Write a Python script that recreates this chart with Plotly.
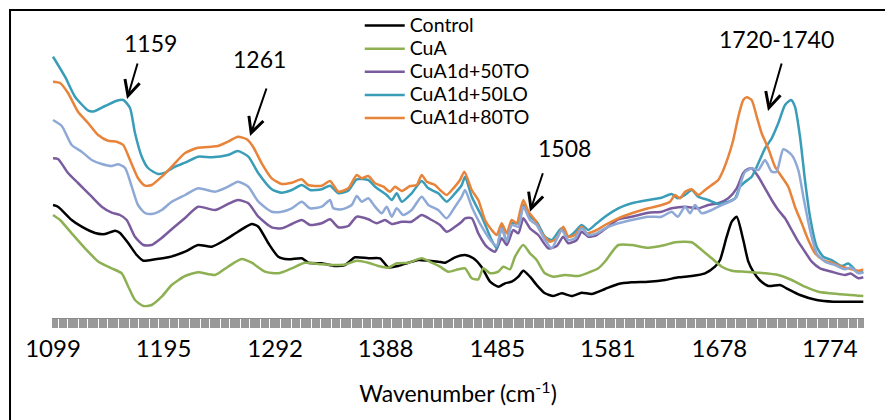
import plotly.graph_objects as go

# ---------------- data ----------------
tick_labels = [1099, 1195, 1292, 1388, 1485, 1581, 1678, 1774]
point_step = 1.928  # spacing of the measured wavenumbers (category ticks)

control_x = [1099, 1103.3, 1115.2, 1123.9, 1135.5, 1144.2, 1152.9, 1157.2, 1164.4, 1171.7, 1177.5, 1187.6, 1199.2, 1213.7,
             1225, 1236.9, 1248.4, 1259.7, 1271.6, 1277.4, 1286.1, 1294.7, 1303.4, 1315.1, 1320.8, 1332.4,
             1344, 1352.7, 1361.4, 1372.9, 1383.1, 1390.3, 1399, 1407.7, 1416.4, 1425.1, 1433.7, 1439.6, 1448.3, 1457,
             1464.2, 1471.5, 1478.7, 1485.9, 1491.7, 1497.5, 1503.3, 1507.6, 1513.4, 1519.2, 1526.4, 1533.7, 1540.9,
             1549.6, 1558.3, 1567, 1578.6, 1590.1, 1601.8, 1616.2, 1630.7, 1642.3, 1653.9, 1665.5, 1674.1, 1678.5,
             1684.3, 1688.7, 1693, 1698.7, 1703.1, 1707.4, 1712.9, 1720.4, 1730.6, 1736.3, 1748, 1762.5, 1777, 1803]
control_y = [113, 111.3, 98, 91.3, 85, 84, 87.3, 85, 74.7, 63, 57.3, 58.7, 60.7, 66.3,
             73, 71.3, 78, 86.3, 94, 91.3, 74.7, 61.3, 58.7, 59.7, 55.3, 54.7,
             52, 53, 60.7, 59.7, 59.7, 50.7, 52, 55.3, 58, 57.3, 56.3, 55.3, 60.7, 63,
             59.7, 50.7, 36.3, 31.3, 34.7, 36.3, 41.3, 47.3, 41.3, 33, 24.7, 22, 24.7,
             22, 25.3, 24, 29, 34, 35.7, 36.3, 38, 40.7, 42, 44.7, 51.3, 58,
             81.3, 96.3, 101.3, 78, 56.3, 46.3, 38, 32, 33, 29.7, 23, 18, 16.3, 16.3]

cua_x = [1099, 1105.1, 1115.2, 1126.8, 1138.4, 1150, 1158.7, 1164.4, 1170.2, 1177.5, 1184.7, 1193.4, 1202.1, 1213.7,
         1225, 1239.7, 1251, 1262.9, 1271.6, 1283.2, 1294.7, 1306.4, 1317.9, 1332.4,
         1344, 1352.7, 1362.9, 1372.9, 1381.6, 1390.3, 1397.6, 1407.7, 1419.3, 1428, 1435.2, 1442.4, 1451.1, 1457,
         1462.8, 1468.5, 1472.8, 1478.7, 1485.9, 1490.2, 1496, 1500.4, 1507.6, 1513.4, 1519.2, 1526.4, 1533.7,
         1543.8, 1555.4, 1564.1, 1572.8, 1578.6, 1590.1, 1601.8, 1616.2, 1630.7, 1639.4, 1653.9, 1662.6, 1671.3,
         1680, 1688.7, 1700.2, 1711.8, 1729.1, 1740.8, 1752.3, 1763.9, 1781.3, 1803]
cua_y = [103, 98, 84.7, 69.7, 56.3, 49.7, 44.7, 31.3, 18, 12, 13, 21.3, 33, 42,
         45.7, 43, 51.3, 59, 55.3, 46.3, 44.7, 49.7, 55.3, 53.7,
         53, 53.5, 57.3, 55.3, 52, 50.3, 54.7, 55.3, 59.7, 55.3, 51.3, 46.3, 48.7, 49.7,
         39.7, 38.7, 49.7, 44.7, 46.3, 51.3, 48.7, 61.3, 73, 64.7, 58, 44.7, 41.3,
         43, 42, 45.3, 49.7, 56.5, 73, 73, 70.3, 73, 75.7, 75.7, 68, 59.7,
         51.3, 47.3, 46.3, 45.3, 43, 38, 31.3, 26.3, 24, 22]

to50_x = [1099, 1103.3, 1112, 1120.7, 1132.6, 1141.3, 1150, 1157.2, 1163, 1170.2, 1177.5, 1184.7, 1193.4, 1203.3, 1213.7,
          1225, 1239.7, 1251, 1259.7, 1268.7, 1277.4, 1289, 1297.7, 1306.4, 1315.1, 1322.3, 1332.4,
          1339.7, 1346.9, 1355.5, 1362.9, 1372.9, 1380.2, 1387.4, 1393.3, 1402, 1410.6, 1419.3, 1428, 1435.2, 1441,
          1448.3, 1454.1, 1457, 1462.8, 1468.5, 1475.8, 1483, 1488.8, 1493.2, 1498.9, 1503.3, 1507.6, 1513.4, 1520.6,
          1529.3, 1536.6, 1542.3, 1546.7, 1554, 1558.3, 1564.1, 1571.4, 1578.6, 1590.1, 1601.8, 1616.2, 1627.8,
          1636.5, 1648.1, 1659.6, 1668.3, 1677, 1685.7, 1693, 1698.7, 1703, 1706, 1711.8, 1717.6, 1723.4, 1729.1,
          1735, 1740.8, 1746.5, 1752.3, 1758.2, 1765.4, 1775.5, 1787.1, 1792, 1798.7, 1803]
to50_y = [159.7, 159, 145, 135, 121.3, 111.3, 105.3, 103, 98, 81.3, 73, 73, 80, 90, 100,
          111.3, 108, 114, 118, 114.7, 101.3, 90.7, 89.7, 94, 98, 93, 94.7,
          98.7, 90.7, 92, 101.3, 98.7, 94.7, 98, 94, 96.3, 96.3, 103, 98, 93, 86.3,
          91.3, 96.3, 99.7, 99.7, 84.7, 71.3, 66.3, 79.7, 73, 88, 84.7, 99.7, 89.7, 83,
          69.7, 72, 81.3, 74.7, 78, 86.3, 81.3, 83, 89, 98.7, 101.3, 105.3, 106.3,
          109.7, 111.3, 109.7, 113, 114.7, 119.7, 129.7, 145, 149, 149.7, 141.3, 129.7, 118, 108,
          99.7, 88, 76.3, 66.3, 56.3, 49.7, 46.3, 43, 44.5, 39.7, 40.7]

lo50_x = [1099, 1109.4, 1118.1, 1129.7, 1134, 1144.2, 1154.3, 1160.1, 1165.9, 1170.2, 1176.1, 1181.5, 1190.2, 1196.3, 1205, 1213.7,
          1225, 1236.9, 1251, 1259.7, 1268.7, 1277.4, 1289, 1297.7, 1306.4, 1315.1, 1322.3, 1332.4,
          1339.7, 1346.9, 1355.5, 1362.9, 1372.9, 1378.8, 1388.9, 1393.3, 1397.6, 1402, 1410.6, 1419.3, 1425.1, 1433.7,
          1441, 1448.3, 1454.1, 1457, 1462.8, 1471.5, 1480.1, 1484.5, 1488.8, 1493.2, 1497.5, 1503.3, 1507.6, 1513.4,
          1519.2, 1526.4, 1532.3, 1540.9, 1546.7, 1552.5, 1558.3, 1564.1, 1571.4, 1578.6, 1590.1, 1601.8, 1616.2,
          1627.8, 1636.5, 1641.8, 1648.1, 1653.9, 1659.6, 1668.3, 1677, 1682.8, 1691.5, 1695.9, 1700.2, 1706, 1711.8,
          1717.6, 1723.4, 1729.1, 1735, 1740.2, 1743.6, 1748, 1752.3, 1756.7, 1762.5, 1768.2, 1775.5, 1784.2, 1790,
          1798.7, 1803]
lo50_y = [261.3, 241.3, 221.3, 207.3, 206.5, 212, 217.3, 218, 210, 185, 161.3, 150, 144, 145.3, 151.3, 155.3,
          161.3, 160.7, 163, 167, 161.3, 144.7, 128.7, 125.3, 128, 133, 128, 128.7,
          132.3, 124.7, 127.3, 138.7, 138, 131.3, 123, 118, 124.7, 116.3, 124.7, 137, 129.7, 124.7,
          116.3, 124.7, 133, 141.3, 121.3, 101.3, 78, 69.7, 91.3, 76.3, 94.7, 94.7, 113, 101.3,
          96.3, 81.3, 78, 89.7, 81.3, 86.3, 93, 88, 94.7, 101.3, 109.7, 114.7, 118,
          120.3, 124, 119.7, 123, 128, 121.3, 118, 114, 115.3, 119.7, 131.3, 136, 141.3, 154.7,
          169.7, 179.7, 194.7, 213, 218, 211.3, 181.3, 138, 101.3, 71.3, 61.3, 58, 52, 54.5,
          45.3, 46.3]

to80_x = [1099, 1105.1, 1112, 1120.7, 1129.4, 1138.2, 1146.8, 1154.3, 1160, 1165.9, 1172.8, 1178.9, 1184.7, 1193.4, 1202.1, 1213.7,
          1225, 1236.9, 1242.4, 1251, 1259.7, 1267.3, 1272.8, 1280.3, 1289, 1297.7, 1306.4, 1315.1, 1320.5, 1332.4,
          1339.7, 1346.9, 1355.5, 1362.9, 1367.2, 1372.9, 1378.8, 1386, 1391.8, 1396.1, 1402, 1409.2, 1415, 1419.3,
          1423.7, 1430.9, 1435.2, 1441, 1446.8, 1452.6, 1456.4, 1462.8, 1468.5, 1474.3, 1480.1, 1484.5, 1488.8, 1493.2,
          1497.5, 1501.9, 1504.7, 1507.6, 1512, 1517.8, 1523.6, 1530.8, 1536.6, 1542.3, 1546.7, 1552.5, 1558.3,
          1562.7, 1571.4, 1578.6, 1590.1, 1601.8, 1616.2, 1627.8, 1635.1, 1639.4, 1643.7, 1648.1, 1653.9, 1659.6,
          1665.5, 1671.3, 1677, 1681.4, 1685.7, 1690, 1694.4, 1698.7, 1701.7, 1706, 1710.4, 1714.7, 1720.4, 1726.3,
          1732.1, 1737.8, 1743.6, 1749.5, 1755.2, 1761, 1768.2, 1775.5, 1784.2, 1790, 1798.7, 1803]
to80_y = [236.3, 235, 225, 206.3, 195, 183, 177.3, 176.3, 173, 158, 140, 132.3, 133, 141.3, 151.3, 165,
          170.3, 171.3, 172, 176.3, 181.3, 178.7, 171.3, 154.7, 139.7, 134, 135.3, 138.7, 133, 132.3,
          137, 126.3, 129.7, 143, 139.7, 142, 134.7, 131.3, 126.3, 131.3, 127, 132, 133, 143,
          136.3, 133, 128, 123, 129.7, 138, 146.3, 128, 118, 98, 88, 83, 94.7, 84.7,
          98, 94.7, 106.3, 118, 106.3, 98, 84.7, 76.3, 79.7, 91.3, 81.3, 83, 91.3,
          84.7, 88, 93, 99.7, 104.7, 109.7, 113, 116.3, 123, 119.7, 126.3, 128.7, 123,
          128, 133, 138, 148, 161.3, 178, 201.3, 218, 220.7, 218, 201.3, 184.7, 169.7, 151.3,
          141.3, 131.3, 111.3, 94.7, 78, 64.7, 58, 55.3, 51.3, 49.7, 47.3, 48.7]

lo80_x = [1099, 1106.6, 1115.2, 1123.9, 1132.6, 1141.3, 1150, 1155.5, 1161.6, 1167.4, 1172.8, 1178.9, 1184.7, 1193.4, 1202.1, 1213.7,
          1225, 1239.7, 1251, 1259.7, 1268.7, 1277.4, 1289, 1297.7, 1306.4, 1315.1, 1322.3, 1332.4,
          1339.7, 1342.5, 1349.8, 1358.5, 1362.9, 1367.2, 1372.9, 1378.8, 1384.6, 1388.9, 1393.3, 1397.6, 1403.3,
          1410.6, 1419.3, 1425.1, 1433.7, 1441, 1448.3, 1454.1, 1457, 1462.8, 1471.5, 1480.1, 1484.5, 1488.8, 1493.2,
          1497.5, 1503.3, 1507.6, 1513.4, 1519.2, 1526.4, 1532.3, 1540.9, 1546.7, 1552.5, 1558.3, 1564.1, 1571.4,
          1578.6, 1590.1, 1601.8, 1616.2, 1627.8, 1636.5, 1641.8, 1648.1, 1652.5, 1656.8, 1662.6, 1671.3, 1680,
          1687.2, 1693, 1697.3, 1700.2, 1706, 1711.8, 1717.6, 1723.4, 1727.7, 1733.5, 1740.8, 1746.5, 1750.9, 1756.7,
          1762.5, 1769.7, 1778.4, 1787.1, 1792, 1798.7, 1803]
lo80_y = [198, 192, 173, 166.3, 158, 154, 152, 153.7, 150, 131.3, 113, 105, 104, 108, 116.3, 123,
          129.7, 126.3, 131.3, 136.3, 131.3, 116.3, 106.3, 106.3, 109.7, 116.3, 109.7, 111.3,
          118, 109.7, 108.7, 113, 122, 116.3, 119.7, 111.3, 104.7, 111.3, 101.3, 109.7, 103,
          108, 121.3, 113, 108, 99.7, 111.3, 121.3, 128, 111.3, 91.3, 76.3, 72, 89.7, 76.3,
          93, 91.3, 111.3, 98, 93, 78, 69.7, 88, 78, 79.7, 89.7, 83, 84.7,
          89.7, 94.7, 98, 101.3, 101.3, 106.3, 101.3, 111.3, 104.7, 113, 104.7, 108, 113,
          116.3, 121.3, 138, 146, 149.7, 148, 158, 146.3, 146.3, 168.7, 163, 148, 121.3, 88,
          64.7, 56.3, 53, 48.7, 50.5, 44.7, 45.5]

series = [
    ("Control", control_x, control_y, "#000000", True),
    ("CuA", cua_x, cua_y, "#8DB052", True),
    ("CuA1d+50TO", to50_x, to50_y, "#7A5C9E", True),
    ("CuA1d+50LO", lo50_x, lo50_y, "#3A9DB8", True),
    ("CuA1d+80TO", to80_x, to80_y, "#E8833A", True),
    ("CuA1d+80LO", lo80_x, lo80_y, "#8FA9D6", False),
]

# peak annotations: label, arrow head (x, y), arrow tail (x, y), label position (x, y)
peak_labels = ["1159", "1261", "1508", "1720-1740"]
peak_heads = [(1163.3, 219), (1270.2, 182), (1513.4, 106.3), (1720.2, 207)]
peak_tails = [(1172.8, 256), (1284.9, 231), (1525.0, 146.3), (1732.4, 256)]
peak_text_pos = [(1183.3, 275), (1278.8, 259), (1543.8, 170), (1728.0, 279)]

FONT = "Lato"
LEGEND_TEXT_PX = 19.5   # visible legend text size
LEGEND_ROW_FONT = 15.5  # sets the legend row pitch (~23 px)

fig = go.Figure()
for name, xs, ys, color, show in series:
    fig.add_trace(go.Scatter(
        x=xs, y=ys, mode="lines", showlegend=show,
        name=f'<span style="font-size:{LEGEND_TEXT_PX}px">{name}</span>',
        line=dict(color=color, width=2.5, shape="spline", smoothing=0.6),
    ))

for lab, (hx, hy), (tx, ty), (lx, ly) in zip(peak_labels, peak_heads, peak_tails, peak_text_pos):
    fig.add_annotation(x=hx, y=hy, ax=tx, ay=ty, axref="x", ayref="y", xref="x", yref="y",
                       text="", showarrow=True, arrowhead=5, arrowsize=1.5, arrowwidth=2,
                       arrowcolor="black")
    fig.add_annotation(x=lx, y=ly, xref="x", yref="y", text=lab, showarrow=False,
                       font=dict(family=FONT, size=23, color="black"))

# chart-area frame
fig.add_shape(type="rect", xref="paper", yref="paper", x0=-0.0517, x1=1.2, y0=-0.6, y1=1.0,
              line=dict(color="black", width=2), fillcolor="rgba(0,0,0,0)", layer="above")

# the page has an 8px body margin, so the figure is 8px smaller than the window
fig.update_layout(
    width=885, height=412,
    margin=dict(l=44, r=29, t=2, b=102, autoexpand=False),
    paper_bgcolor="white", plot_bgcolor="white",
    font=dict(family=FONT, color="black"),
    legend=dict(x=0.379, y=1.0035, xanchor="left", yanchor="top",
                bgcolor="rgba(0,0,0,0)", font=dict(family=FONT, size=LEGEND_ROW_FONT, color="black"),
                tracegroupgap=0, itemwidth=40),
    xaxis=dict(
        range=[1098.1, 1803.6],
        tickmode="array", tickvals=tick_labels, ticktext=[str(t) for t in tick_labels],
        ticks="outside", ticklen=9, tickcolor="#999999", tickwidth=1.6,
        showline=True, linecolor="#8c8c8c", linewidth=1,
        showgrid=False, zeroline=False,
        tickfont=dict(family=FONT, size=24, color="black"),
        ticklabelstandoff=0,
        minor=dict(ticks="outside", ticklen=9, tickcolor="#999999", tickwidth=1.6,
                   tick0=1099, dtick=point_step, showgrid=False),
        title=dict(text="Wavenumber (cm<sup>-1</sup>)", font=dict(family=FONT, size=23, color="black"),
                   standoff=25),
    ),
    yaxis=dict(range=[0, 308], visible=False),
)

fig.write_html("out.html")
